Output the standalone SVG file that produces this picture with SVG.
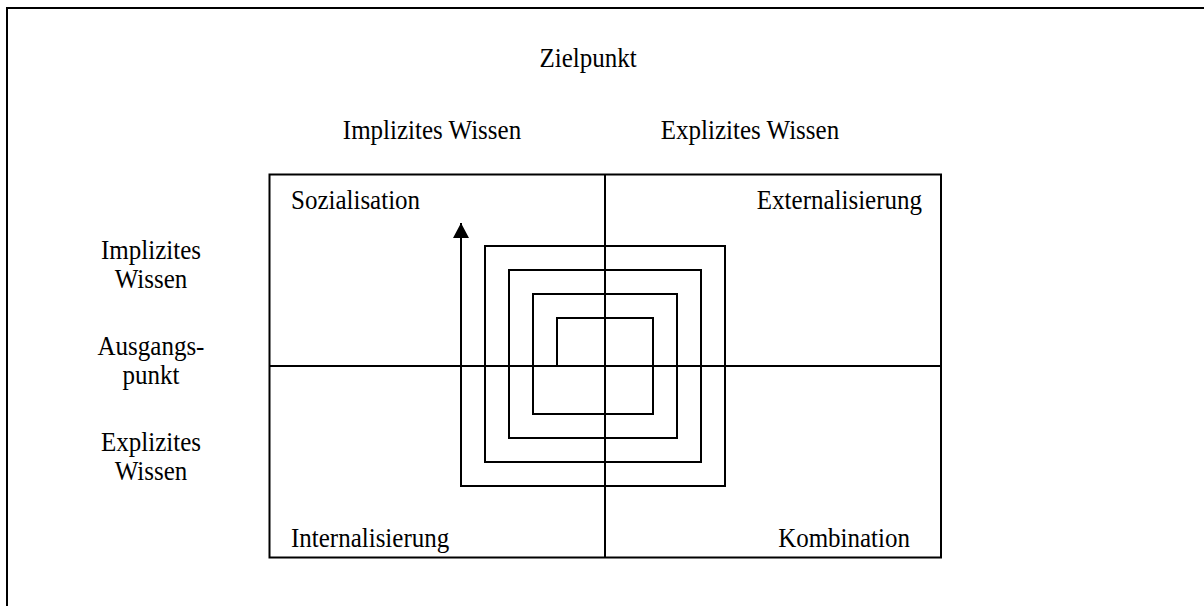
<svg xmlns="http://www.w3.org/2000/svg" width="1204" height="606" viewBox="0 0 1204 606">
  <style>
    .t { font-family: "Liberation Serif", "Times New Roman", serif; font-size: 25px; fill: #000; }
    .mid { text-anchor: middle; }
    .end { text-anchor: end; }
    .ln { fill: none; stroke: #000; stroke-width: 2; stroke-linejoin: miter; }
  </style>
  <defs>
    <!-- filled arrowhead, tip at the marker origin, pointing along the path -->
    <marker id="head" markerWidth="16" markerHeight="16" refX="15" refY="8" orient="auto" markerUnits="userSpaceOnUse" viewBox="0 0 16 16">
      <path d="M15,8 L0,0 L0,16 Z" fill="#000"/>
    </marker>
  </defs>
  <rect width="1204" height="606" fill="#fff"/>

  <!-- outer frame (runs past the right and bottom edges) -->
  <path class="ln" d="M7,606 V8 H1204" stroke-width="2.2"/>

  <!-- axis headings (text is slightly stretched vertically) -->
  <g id="zielpunkt"><text class="t mid" transform="translate(588,67) scale(1,1.07)">Zielpunkt</text></g>
  <g id="top-implizit"><text class="t mid" transform="translate(432,139) scale(1,1.07)">Implizites Wissen</text></g>
  <g id="top-explizit"><text class="t mid" transform="translate(750,139) scale(1,1.07)">Explizites Wissen</text></g>
  <g id="left-implizit">
    <text class="t mid" transform="translate(151,259) scale(1,1.07)">Implizites</text>
    <text class="t mid" transform="translate(151,288) scale(1,1.07)">Wissen</text>
  </g>
  <g id="ausgangspunkt">
    <text class="t mid" transform="translate(151,355) scale(1,1.07)">Ausgangs-</text>
    <text class="t mid" transform="translate(151,384) scale(1,1.07)">punkt</text>
  </g>
  <g id="left-explizit">
    <text class="t mid" transform="translate(151,451) scale(1,1.07)">Explizites</text>
    <text class="t mid" transform="translate(151,480) scale(1,1.07)">Wissen</text>
  </g>

  <!-- quadrant matrix -->
  <g id="matrix">
    <rect class="ln" x="269.5" y="174.5" width="671.5" height="383"/>
    <line class="ln" x1="605" y1="174.5" x2="605" y2="557.5"/>
    <line class="ln" x1="269.5" y1="366" x2="941" y2="366"/>
  </g>

  <!-- quadrant labels -->
  <g id="sozialisation"><text class="t" transform="translate(291,209) scale(1,1.07)">Sozialisation</text></g>
  <g id="externalisierung"><text class="t end" transform="translate(922,209) scale(1,1.07)">Externalisierung</text></g>
  <g id="internalisierung"><text class="t" transform="translate(291,547) scale(1,1.07)">Internalisierung</text></g>
  <g id="kombination"><text class="t end" transform="translate(910,547) scale(1,1.07)">Kombination</text></g>

  <!-- knowledge spiral -->
  <g id="connectors">
    <path class="ln" marker-end="url(#head)" d="M557,366 V318 H653 V414 H533 V294 H677 V438 H509 V270 H701 V462 H485 V246 H725 V486 H461 V223"/>
  </g>
</svg>
